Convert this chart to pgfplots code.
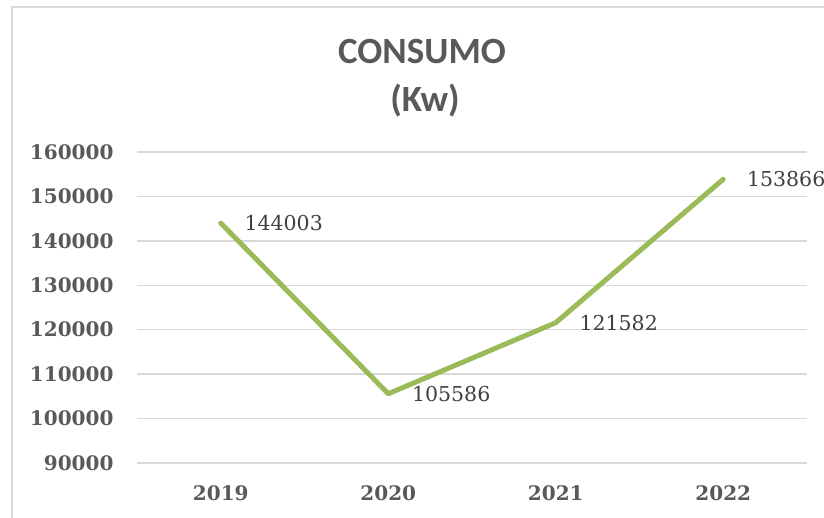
\documentclass[border=0pt]{standalone}
\usepackage{fontspec}
\usepackage{pgfplots}
\pgfplotsset{compat=1.18}
\setmainfont{DejaVu Serif}
\newfontfamily\titlefont{Carlito}
\definecolor{txtgray}{HTML}{595959}
\definecolor{lblgray}{HTML}{404040}
\definecolor{gridgray}{HTML}{D9D9D9}
\definecolor{linegreen}{HTML}{9BBB59}

\begin{document}
\begin{tikzpicture}
\path[use as bounding box] (0pt,0pt) rectangle (824pt,-518pt);
\draw[gridgray,line width=1.5pt] (12pt,-518pt) -- (12pt,-7pt) -- (824pt,-7pt);
\node[txtgray,font=\titlefont\bfseries\fontsize{37}{44}\selectfont] at (422pt,-52pt) {CONSUMO};
\node[txtgray,font=\titlefont\bfseries\fontsize{37}{44}\selectfont] at (425pt,-101pt) {(Kw)};
\begin{axis}[
  at={(137pt,-463pt)},anchor=south west,
  scale only axis,
  width=670pt,height=311pt,
  xmin=-0.5,xmax=3.5,
  ymin=90000,ymax=160000,
  xtick={0,1,2,3},
  xticklabels={2019,2020,2021,2022},
  ytick={90000,100000,110000,120000,130000,140000,150000,160000},
  yticklabels={90000,100000,110000,120000,130000,140000,150000,160000},
  scaled ticks=false,
  ymajorgrids,
  grid style={gridgray,line width=1.5pt},
  axis line style={draw=none},
  tick style={draw=none},
  yticklabel style={font=\bfseries\fontsize{20}{24}\selectfont,txtgray,anchor=east,xshift=-20pt},
  xticklabel style={font=\bfseries\fontsize{20}{24}\selectfont,txtgray,anchor=center,yshift=-30pt},
  clip=false
]
\addplot[linegreen,line width=5pt,line join=round,line cap=round,mark=none,
  nodes near coords,
  point meta=explicit symbolic,
  nodes near coords align={anchor=west},
  every node near coord/.append style={anchor=west,xshift=18pt,font=\fontsize{20.5}{24}\selectfont,text=lblgray}]
 coordinates {
(0,144003)[144003]
(1,105586)[105586]
(2,121582)[121582]
(3,153866)[153866]
};
\end{axis}
\end{tikzpicture}
\end{document}
